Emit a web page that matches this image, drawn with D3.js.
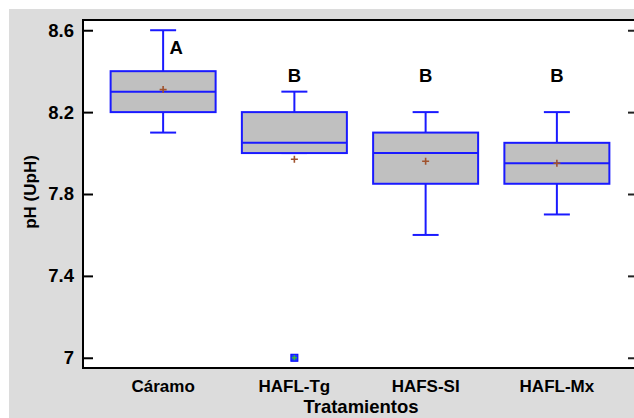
<!DOCTYPE html>
<html><head><meta charset="utf-8">
<script src="https://cdn.jsdelivr.net/npm/d3@7"></script>
<style>body{margin:0;background:#fff;} svg{display:block;} text{font-family:"Liberation Sans",Arial,sans-serif;font-weight:bold;}</style>
</head><body>
<script>
const categories = ["Cáramo","HAFL-Tg","HAFS-SI","HAFL-Mx"];
const whiskerLow = [8.1, 8.0, 7.6, 7.7];
const q1 = [8.2, 8.0, 7.85, 7.85];
const median = [8.3, 8.05, 8.0, 7.95];
const q3 = [8.4, 8.2, 8.1, 8.05];
const whiskerHigh = [8.6, 8.3, 8.2, 8.2];
const means = [8.31, 7.97, 7.96, 7.95];
const outliers = [[], [7.0], [], []];
const groupLetters = ["A","B","B","B"];
const yTicks = [7, 7.4, 7.8, 8.2, 8.6];
const yTickLabels = ["7","7.4","7.8","8.2","8.6"];

const W=634,H=418;
const svg=d3.select("body").append("svg").attr("width",W).attr("height",H);
svg.append("rect").attr("x",9).attr("y",9).attr("width",W-9).attr("height",H-9).attr("fill","#dcdcdc");
const L=83,T=20,R=639,B=368;
svg.append("rect").attr("x",L).attr("y",T).attr("width",R-L).attr("height",B-T).attr("fill","#fff");

const x=d3.scaleBand().domain(categories).range([97.5,622.5]).paddingInner(0).paddingOuter(0);
const y=d3.scaleLinear().domain([6.95,8.65]).range([B,T]);
const bw=x.bandwidth()*0.8, cw=26;

svg.append("line").attr("x1",L).attr("x2",L).attr("y1",T-1).attr("y2",B+1).attr("stroke","#000").attr("stroke-width",2);
svg.append("line").attr("x1",L).attr("x2",W).attr("y1",T).attr("y2",T).attr("stroke","#000").attr("stroke-width",2);
svg.append("line").attr("x1",L).attr("x2",W).attr("y1",B).attr("y2",B).attr("stroke","#000").attr("stroke-width",2);

const ya=svg.append("g").attr("transform",`translate(${L},0)`)
  .call(d3.axisLeft(y).tickValues(yTicks).tickFormat((d,i)=>yTickLabels[i]).tickSize(-10).tickPadding(9));
ya.select(".domain").remove();
ya.selectAll(".tick line").attr("stroke","#000").attr("stroke-width",2);
ya.selectAll(".tick text").attr("font-size",18.5).attr("fill","#000").attr("font-family",null);
const yr=svg.append("g").attr("transform",`translate(${R},0)`)
  .call(d3.axisRight(y).tickValues(yTicks).tickFormat("").tickSize(-11));
yr.select(".domain").remove();
yr.selectAll(".tick line").attr("stroke","#222").attr("stroke-width",2);

const xa=svg.append("g").attr("transform",`translate(0,${B})`)
  .call(d3.axisBottom(x).tickSize(0).tickPadding(9));
xa.select(".domain").remove();
xa.selectAll(".tick text").attr("font-size",17).attr("fill","#000").attr("font-family",null).attr("dy","0.9em");

const g=svg.append("g");
categories.forEach((c,i)=>{
  const cx=x(c)+x.bandwidth()/2;
  const ln=(x1,y1,x2,y2)=>g.append("line").attr("x1",x1).attr("y1",y1).attr("x2",x2).attr("y2",y2).attr("stroke","#1a1aff").attr("stroke-width",2);
  ln(cx,y(whiskerHigh[i]),cx,y(q3[i]));
  ln(cx,y(q1[i]),cx,y(whiskerLow[i]));
  ln(cx-cw/2,y(whiskerHigh[i]),cx+cw/2,y(whiskerHigh[i]));
  ln(cx-cw/2,y(whiskerLow[i]),cx+cw/2,y(whiskerLow[i]));
  g.append("rect").attr("x",cx-bw/2).attr("y",y(q3[i])).attr("width",bw).attr("height",y(q1[i])-y(q3[i]))
    .attr("fill","#c0c0c0").attr("stroke","#1a1aff").attr("stroke-width",2);
  ln(cx-bw/2,y(median[i]),cx+bw/2,y(median[i]));
  const my=y(means[i]);
  g.append("path").attr("d",`M${cx-3.5},${my}H${cx+3.5}M${cx},${my-3.5}V${my+3.5}`).attr("stroke","#a0522d").attr("stroke-width",1.6);
  outliers[i].forEach(v=>{
    const oy=y(v);
    g.append("rect").attr("x",cx-3.5).attr("y",oy-3.5).attr("width",7).attr("height",7).attr("fill","#1a3cff").attr("stroke","#0000ff").attr("stroke-width",1);
    g.append("path").attr("d",`M${cx-2.5},${oy}H${cx+2.5}M${cx},${oy-2.5}V${oy+2.5}`).attr("stroke","#3cb43c").attr("stroke-width",1.4);
  });
  g.append("text").attr("x",i===0?cx+13:cx).attr("y",i===0?54:82).attr("text-anchor","middle").attr("font-size",18.5).attr("fill","#000").text(groupLetters[i]);
});

svg.append("text").attr("x",361).attr("y",413).attr("text-anchor","middle").attr("font-size",18.5).attr("fill","#000").text("Tratamientos");
svg.append("text").attr("transform","translate(36,192) rotate(-90)").attr("text-anchor","middle").attr("font-size",17).attr("fill","#000").text("pH (UpH)");
</script>
</body></html>
